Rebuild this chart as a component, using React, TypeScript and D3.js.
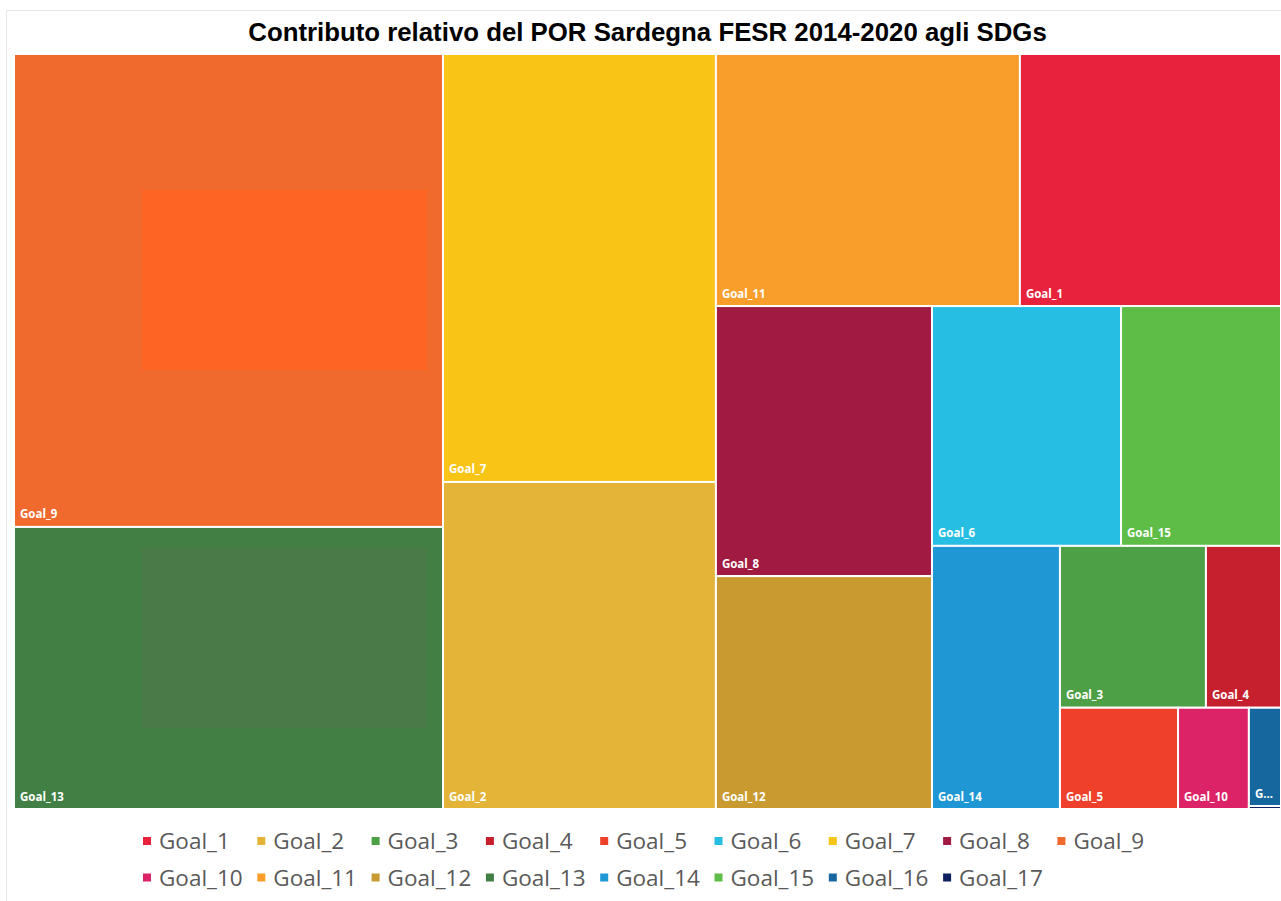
import React from "react";
import * as d3 from "d3";

// ---- Data ----
const goals = [
  "Goal_1", "Goal_2", "Goal_3", "Goal_4", "Goal_5", "Goal_6", "Goal_7", "Goal_8", "Goal_9",
  "Goal_10", "Goal_11", "Goal_12", "Goal_13", "Goal_14", "Goal_15", "Goal_16", "Goal_17",
];
// relative contribution (%)
const shares = [6.88, 9.33, 2.47, 1.27, 1.25, 4.74, 12.21, 6.10, 21.21, 0.75, 8.01, 5.26, 12.65, 3.52, 4.01, 0.33, 0.01];
const goalColors = [
  "#E8213D", "#E3B437", "#4DA046", "#C6202F", "#EE402B", "#27BEE4", "#F8C416", "#A11A41", "#F06A2E",
  "#DC2367", "#F99D2B", "#C99A2F", "#417F45", "#1F97D5", "#5EBD47", "#17679F", "#0E1F5E",
];
const title = "Contributo relativo del POR Sardegna FESR 2014-2020 agli SDGs";

// number of tiles in each successive strip of the squarified layout
const ROW_LENGTHS = [2, 2, 2, 2, 2, 1, 2, 1, 1, 1, 1];

const W = 1281;
const H = 901;
const plot = { x0: 14, y0: 54, x1: 1281, y1: 809 };

function stripTile(parent: any, x0: number, y0: number, x1: number, y1: number) {
  const nodes = parent.children;
  let remaining = parent.value;
  let i0 = 0;
  for (const len of ROW_LENGTHS) {
    const kids = nodes.slice(i0, i0 + len);
    if (!kids.length) break;
    const sum = d3.sum(kids, (d: any) => d.value);
    const row: any = { value: sum, children: kids };
    const dx = x1 - x0, dy = y1 - y0;
    if (dx < dy) {
      const ye = remaining ? y0 + (dy * sum) / remaining : y1;
      d3.treemapDice(row, x0, y0, x1, ye);
      y0 = ye;
    } else {
      const xe = remaining ? x0 + (dx * sum) / remaining : x1;
      d3.treemapSlice(row, x0, y0, xe, y1);
      x0 = xe;
    }
    remaining -= sum;
    i0 += len;
  }
}

let ctx: CanvasRenderingContext2D | null = null;
function textWidth(s: string, font: string) {
  if (!ctx) ctx = document.createElement("canvas").getContext("2d");
  if (!ctx) return s.length * 6.5;
  ctx.font = font;
  return ctx.measureText(s).width;
}
const LABEL_FONT = "bold 11.5px 'Open Sans'";
function fitLabel(s: string, maxW: number) {
  if (textWidth(s, LABEL_FONT) <= maxW) return s;
  for (let k = s.length - 1; k >= 1; k--) {
    const t = s.slice(0, k) + "...";
    if (textWidth(t, LABEL_FONT) <= maxW) return t;
  }
  return "";
}

export default function App() {
  const data = goals.map((g, i) => ({ name: g, value: shares[i], color: goalColors[i] }));
  const root = d3
    .hierarchy<any>({ name: "root", children: data })
    .sum((d: any) => d.value || 0)
    .sort((a: any, b: any) => b.value - a.value);
  d3.treemap<any>()
    .tile(stripTile as any)
    .size([plot.x1 - plot.x0, plot.y1 - plot.y0])(root);
  const leaves = root.leaves() as any[];

  const cell = (name: string) => leaves.find((l) => l.data.name === name);
  const c9 = cell("Goal_9");
  const c13 = cell("Goal_13");

  const legendCols = 9;
  const legendStep = 114.3;
  const legendX = 143;
  const legendY = 849;
  const legendRowH = 36.5;

  return (
    <div style={{ position: "fixed", left: 0, top: 0, width: W, height: H, overflow: "hidden", background: "#fff" }}>
      <svg width={1300} height={H} style={{ display: "block" }}>
        <rect x={0} y={0} width={1300} height={H} fill="#fff" />
        <rect x={6.5} y={10.5} width={1290} height={900} fill="none" stroke="#e6e6e6" strokeWidth={1} />
        <text
          x={(plot.x0 + plot.x1) / 2}
          y={41}
          textAnchor="middle"
          fontFamily="'Liberation Sans', Arial, sans-serif"
          fontWeight="bold"
          fontSize={25.8}
          fill="#000"
        >
          {title}
        </text>
        <g transform={`translate(${plot.x0},${plot.y0})`}>
          {leaves.map((l) => (
            <rect
              key={l.data.name}
              x={l.x0}
              y={l.y0}
              width={Math.max(0, l.x1 - l.x0)}
              height={Math.max(0, l.y1 - l.y0)}
              fill={l.data.color}
              stroke="#fff"
              strokeWidth={2}
            />
          ))}
          {c9 && (
            <rect x={c9.x0 + 128} y={c9.y0 + 136} width={c9.x1 - c9.x0 - 144} height={180} fill="#FF6522" />
          )}
          {c13 && (
            <rect x={c13.x0 + 128} y={c13.y0 + 21} width={c13.x1 - c13.x0 - 144} height={180} fill="#4A7A47" />
          )}
          {leaves.map((l) => {
            const w = l.x1 - l.x0;
            const h = l.y1 - l.y0;
            if (h < 20) return null;
            const t = fitLabel(l.data.name, w - 12);
            if (!t) return null;
            return (
              <text
                key={"t" + l.data.name}
                x={l.x0 + 6}
                y={l.y1 - 8.5}
                fontFamily="'Open Sans', sans-serif"
                fontWeight="bold"
                fontSize={11.5}
                fill="#fff"
              >
                {t}
              </text>
            );
          })}
        </g>
        <g>
          {data.map((d, i) => {
            const col = i % legendCols;
            const row = Math.floor(i / legendCols);
            const x = legendX + col * legendStep;
            const y = legendY + row * legendRowH;
            return (
              <g key={"lg" + d.name} transform={`translate(${x},${y})`}>
                <rect x={0} y={-12} width={8} height={8} fill={d.color} />
                <text x={16} y={0} fontFamily="'Open Sans', sans-serif" fontSize={22.5} fill="#595959">
                  {d.name}
                </text>
              </g>
            );
          })}
        </g>
      </svg>
    </div>
  );
}
